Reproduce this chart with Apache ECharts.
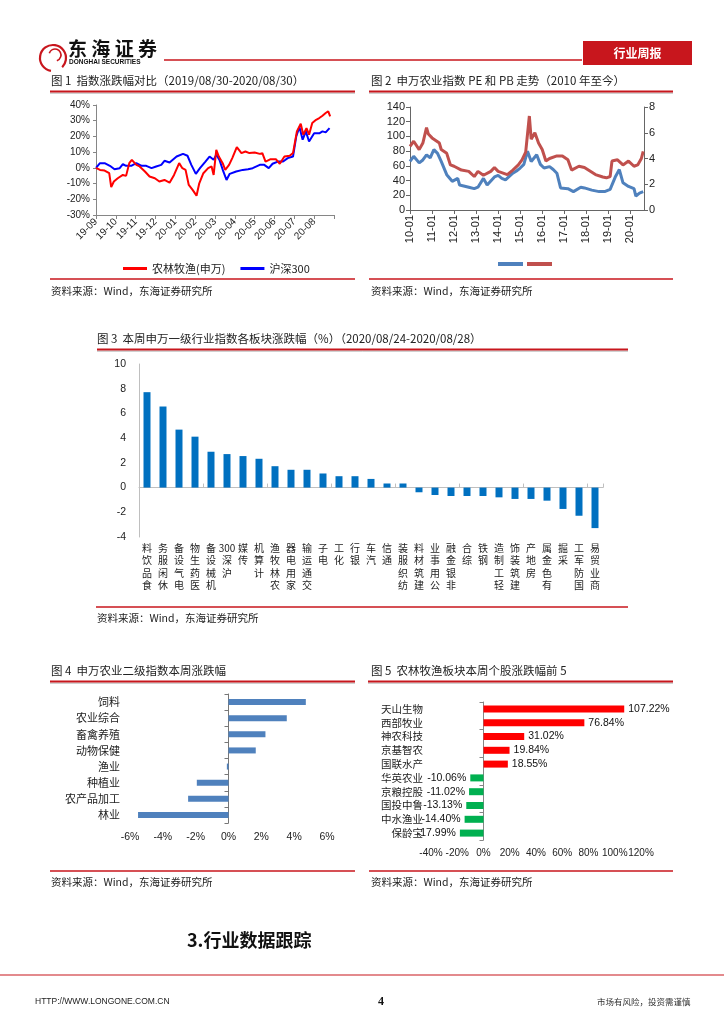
<!DOCTYPE html>
<html><head><meta charset="utf-8">
<script src="https://cdn.jsdelivr.net/npm/echarts@6/dist/echarts.min.js"></script>
<style>html,body{margin:0;padding:0;background:#fff}#c{width:724px;height:1024px}</style>
</head><body><div id="c"></div>
<script>
// ---------- Figure 1: index change comparison ----------
const agriName = '农林牧渔(申万)';
const hsName = '沪深300';
const agriDates = ['2019-09-01','2019-09-07','2019-09-14','2019-09-21','2019-09-24','2019-09-28','2019-10-04','2019-10-12','2019-10-17','2019-10-22','2019-10-26','2019-11-02','2019-11-07','2019-11-15','2019-11-22','2019-11-30','2019-12-07','2019-12-15','2019-12-23','2019-12-30','2020-01-07','2020-01-12','2020-01-17','2020-01-22','2020-01-28','2020-02-03','2020-02-07','2020-02-13','2020-02-20','2020-02-25','2020-02-28','2020-03-03','2020-03-07','2020-03-13','2020-03-17','2020-03-23','2020-03-28','2020-04-04','2020-04-11','2020-04-17','2020-04-23','2020-05-01','2020-05-09','2020-05-13','2020-05-18','2020-05-26','2020-06-03','2020-06-09','2020-06-16','2020-06-24','2020-06-29','2020-07-05','2020-07-11','2020-07-15','2020-07-20','2020-07-24','2020-07-29','2020-08-04','2020-08-09','2020-08-14','2020-08-19','2020-08-23','2020-08-26'];
const agriVals = [0,-1.3,-1.7,-3.4,-12.3,-8.7,-6.6,-4.5,-5.1,3.0,5.1,1.9,0.9,-2.3,-5.5,-6.6,-8.7,-7.7,-9.4,-4.5,3.0,-0.2,-1.3,-10.9,-14,-17.7,-9.8,-3.4,-0.2,0.9,-4.5,11.5,7.2,3.0,-1.3,1.9,6.2,13.2,9.4,10.4,9.4,9.8,8.9,9.4,4.0,5.5,5.5,2.6,7.2,7.7,9.4,23.2,28.1,21.1,25.3,21.1,28.5,30.6,31.7,33.2,34.9,36,32.8];
const hsDates = ['2019-09-01','2019-09-07','2019-09-14','2019-09-22','2019-09-29','2019-10-07','2019-10-12','2019-10-17','2019-10-25','2019-11-02','2019-11-10','2019-11-17','2019-11-25','2019-12-02','2019-12-10','2019-12-15','2019-12-23','2020-01-03','2020-01-13','2020-01-20','2020-01-26','2020-02-02','2020-02-08','2020-02-16','2020-02-22','2020-02-28','2020-03-03','2020-03-08','2020-03-14','2020-03-19','2020-03-24','2020-04-03','2020-04-13','2020-04-21','2020-04-28','2020-05-09','2020-05-16','2020-05-23','2020-05-29','2020-06-06','2020-06-14','2020-06-21','2020-06-29','2020-07-04','2020-07-09','2020-07-14','2020-07-19','2020-07-24','2020-08-01','2020-08-09','2020-08-14','2020-08-19','2020-08-25'];
const hsVals = [0,3.0,3.0,1.3,-0.9,-0.2,2.3,1.3,1.3,3.0,1.3,1.3,-0.2,0.9,1.9,4.5,3.4,7.2,8.9,7.7,1.9,-3.8,-0.2,4.0,7.2,5.1,8.3,5.1,-2.3,-7.7,-3.8,-2.3,-1.3,-0.9,-0.2,1.9,1.9,-0.2,2.6,4.0,4.0,6.2,7.2,20,26,17.9,23.2,16.8,22,22,23.2,22.6,25.3];
const fig1MonthLabels = ['19-09','19-10','19-11','19-12','20-01','20-02','20-03','20-04','20-05','20-06','20-07','20-08'];

// ---------- Figure 2: PE / PB since 2010 ----------
const peDates = ['2010-01','2010-03','2010-06','2010-08','2010-10','2010-12','2011-02','2011-04','2011-06','2011-07','2011-09','2011-12','2012-03','2012-04','2012-09','2012-12','2013-02','2013-05','2013-07','2013-11','2014-01','2014-03','2014-05','2014-09','2014-11','2015-01','2015-03','2015-05','2015-07','2015-08','2015-10','2015-12','2016-02','2016-05','2016-07','2016-09','2016-11','2017-03','2017-06','2017-10','2017-12','2018-04','2018-08','2018-11','2019-02','2019-05','2019-07','2019-09','2019-12','2020-03','2020-04','2020-06','2020-08'];
const peVals = [66,73,64,68,75,71,82,77,66,64,48,39,43,34,31,29,31,43,34,45,47,43,41,50,53,57,62,80,66,68,75,62,57,59,55,50,30,29,25,31,30,27,25,25,28,46,55,37,32,29,19,23,25];
const pbDates = ['2010-01','2010-03','2010-06','2010-08','2010-10','2010-11','2011-01','2011-03','2011-05','2011-06','2011-09','2011-11','2012-01','2012-05','2012-09','2012-12','2013-02','2013-05','2013-09','2013-11','2014-01','2014-06','2014-09','2014-12','2015-02','2015-04','2015-06','2015-07','2015-09','2015-11','2016-01','2016-03','2016-05','2016-09','2016-12','2017-03','2017-05','2017-09','2017-12','2018-06','2018-10','2018-12','2019-02','2019-03','2019-06','2019-09','2019-12','2020-03','2020-05','2020-07','2020-08'];
const pbVals = [4.95,5.34,4.69,5.2,6.4,5.9,5.6,5.4,5.2,4.7,4.4,3.5,3.4,3.1,3.0,2.6,3.0,2.7,3.0,3.3,3.0,2.75,3.1,3.5,3.9,4.5,7.3,5.5,6.0,5.2,4.7,3.8,4.0,4.2,4.2,3.9,3.1,3.4,3.3,2.75,2.56,2.5,2.6,3.8,3.9,3.5,3.8,3.4,3.5,4.0,4.56];

// ---------- Figure 3: SW level-1 industries weekly change ----------
const industries = ['食品饮料','休闲服务','电气设备','医药生物','机械设备','沪深300','传媒','计算机','农林牧渔','家用电器','交通运输','电子','化工','银行','汽车','通信','纺织服装','建筑材料','公用事业','非银金融','综合','钢铁','轻工制造','建筑装饰','房地产','有色金属','采掘','国防军工','商业贸易'];
const industryVals = [7.72,6.56,4.69,4.12,2.90,2.71,2.55,2.33,1.73,1.44,1.44,1.14,0.92,0.92,0.70,0.33,0.33,-0.38,-0.60,-0.68,-0.68,-0.68,-0.79,-0.92,-0.92,-1.06,-1.73,-2.28,-3.28];

// ---------- Figure 4: SW agriculture level-2 ----------
const subInds = ['饲料','农业综合','畜禽养殖','动物保健','渔业','种植业','农产品加工','林业'];
const subVals = [4.71,3.55,2.25,1.66,-0.10,-1.93,-2.46,-5.51];

// ---------- Figure 5: top/bottom 5 stocks ----------
const stocks = ['天山生物','西部牧业','神农科技','京基智农','国联水产','华英农业','京粮控股','国投中鲁','中水渔业','保龄宝'];
const stockVals = [107.22,76.84,31.02,19.84,18.55,-10.06,-11.02,-13.13,-14.40,-17.99];

// ---------- helpers ----------
const CJK = '"Noto Sans CJK SC"';
const LAT = '"Liberation Sans", Arial';
function monthPos(s){ const [y,m,d]=s.split('-').map(Number); const dim=new Date(y,m,0).getDate(); return (y-2019)*12+(m-9)+(d-1)/dim; }
function yearPos(s){ const [y,m]=s.split('-').map(Number); return y+(m-1)/12; }
const zip = (xs, ys, f) => xs.map((x,i)=>[f(x), ys[i]]);

function T(x,y,text,size,opt){ opt=opt||{}; return {type:'text', x:x, y:y, silent:true, style:{text:text, font:(opt.bold?'bold ':'')+size+'px '+(opt.fam||CJK), fill:opt.fill||'#222', align:opt.align||'left', verticalAlign:'middle'}}; }
function L(x1,y1,x2,y2,color,w){ return {type:'line', silent:true, shape:{x1:x1,y1:y1,x2:x2,y2:y2}, style:{stroke:color, lineWidth:w}}; }
function underline(x1,x2,y){ return [L(x1,y+1.6,x2,y+1.6,'#b0b0b0',1), L(x1,y,x2,y,'#c8161d',2)]; }

const RED='#c8161d';
const src='资料来源：Wind，东海证券研究所';
const graphics = [].concat(
  // header logo
  [{type:'arc', silent:true, shape:{cx:53,cy:58,r:13,startAngle:Math.PI*0.55,endAngle:Math.PI*2.25}, style:{stroke:'#c8161d',lineWidth:2.2,fill:null}},
   {type:'arc', silent:true, shape:{cx:55,cy:55,r:6,startAngle:Math.PI*1.1,endAngle:Math.PI*2.4}, style:{stroke:'#c8161d',lineWidth:1.6,fill:null}},
   T(68,49,'东 海 证 券',19,{bold:true,fill:'#111'}),
   T(69,62,'DONGHAI SECURITIES',6.5,{bold:true,fill:'#111',fam:LAT}),
   L(164,60,582,60,RED,1.5),
   {type:'rect', silent:true, shape:{x:583,y:41,width:109,height:24}, style:{fill:'#c8161d'}},
   T(637.5,53,'行业周报',12,{bold:true,fill:'#fff',align:'center'})],
  // fig 1 & 2 headers
  [T(51,81,'图 1  指数涨跌幅对比（2019/08/30-2020/08/30）',11.5), T(371,81,'图 2  申万农业指数 PE 和 PB 走势（2010 年至今）',11.5)],
  underline(50,355,91.5), underline(369,673,91.5),
  [L(50,279,355,279,RED,1.5), L(369,279,673,279,RED,1.5), T(51,291,src,10.5), T(371,291,src,10.5)],
  // fig 3
  [T(97,339,'图 3  本周申万一级行业指数各板块涨跌幅（%）（2020/08/24-2020/08/28）',11.5)],
  underline(97,628,349.5),
  [L(96,607,628,607,RED,1.5), T(97,618,src,10.5)],
  // fig 4 & 5
  [T(51,671,'图 4  申万农业二级指数本周涨跌幅',11.5), T(371,671,'图 5  农林牧渔板块本周个股涨跌幅前 5',11.5)],
  underline(50,355,681.5), underline(368,673,681.5),
  [L(50,871,355,871,RED,1.5), L(369,871,673,871,RED,1.5), T(51,882,src,10.5), T(371,882,src,10.5)],
  // section title & footer
  [T(187,940,'3.行业数据跟踪',18,{bold:true,fill:'#111'}),
   L(0,975,724,975,RED,1.2),
   T(35,1002,'HTTP://WWW.LONGONE.COM.CN',8.5,{fam:LAT,fill:'#222'}),
   T(378,1002,'4',12,{bold:true,fam:'"Liberation Serif", serif',fill:'#111'}),
   T(597,1002,'市场有风险，投资需谨慎',8.5,{fill:'#333'})]
);

const axGray = {lineStyle:{color:'#868686',width:1}};
const lbl = (size, extra) => Object.assign({fontSize:size, color:'#222', fontFamily:LAT}, extra||{});

const option = {
  animation:false,
  backgroundColor:'#fff',
  textStyle:{fontFamily:LAT},
  graphic: graphics,
  legend:[
    {data:[agriName,hsName], left:118, top:258, icon:'rect', itemWidth:24, itemHeight:3, itemGap:15,
     textStyle:{fontSize:11, color:'#222', fontFamily:CJK}},
    {data:['PE','PB'], left:493, top:257, icon:'rect', itemWidth:25, itemHeight:4, itemGap:4, formatter:()=>'' , textStyle:{fontSize:1}}
  ],
  grid:[
    {left:96, top:105, width:238, height:110},
    {left:410, top:107, width:234, height:103},
    {left:139, top:364, width:464, height:173},
    {left:130, top:694, width:197, height:129},
    {left:431, top:702, width:210, height:138}
  ],
  xAxis:[
    {gridIndex:0, type:'value', min:0, max:12, interval:1, splitLine:{show:false},
     axisLine:Object.assign({onZero:false}, axGray), axisTick:{length:4, lineStyle:{color:'#868686'}},
     axisLabel:lbl(10,{rotate:45, margin:5, formatter:v=>fig1MonthLabels[v]||''})},
    {gridIndex:1, type:'value', min:2010, max:2020.62, interval:1, splitLine:{show:false},
     axisLine:{onZero:false, lineStyle:{color:'#666'}}, axisTick:{length:4, lineStyle:{color:'#666'}},
     axisLabel:lbl(11,{rotate:90, margin:5, showMaxLabel:false, formatter:v=>Number.isInteger(v)?String(v).slice(2)+'-01':''})},
    {gridIndex:2, type:'category', data:industries, axisLine:{show:false, onZero:false}, axisTick:{show:false},
     axisLabel:{interval:0, fontSize:10, lineHeight:12.3, color:'#222', fontFamily:CJK, margin:5, verticalAlign:'top',
       formatter:v=>v.indexOf('300')>=0 ? '300\n深\n沪' : v.split('').reverse().join('\n')}},
    {gridIndex:2, type:'category', data:industries, axisLine:{onZero:true, lineStyle:{color:'#bfbfbf'}},
     axisTick:{show:true, length:4, lineStyle:{color:'#bfbfbf'}}, axisLabel:{show:false}},
    {gridIndex:3, type:'value', min:-6, max:6, interval:2, splitLine:{show:false},
     axisLine:{onZero:false, lineStyle:{color:'#777'}}, axisTick:{length:4, lineStyle:{color:'#777'}},
     axisLabel:lbl(10.5,{margin:9, formatter:v=>v+'%'})},
    {gridIndex:4, type:'value', min:-40, max:120, interval:20, splitLine:{show:false},
     axisLine:{onZero:false, lineStyle:{color:'#868686'}}, axisTick:{length:4, lineStyle:{color:'#868686'}},
     axisLabel:lbl(10,{margin:8, formatter:v=>v+'%'})}
  ],
  yAxis:[
    {gridIndex:0, type:'value', min:-30, max:40, interval:10, splitLine:{show:false},
     axisLine:Object.assign({show:true, onZero:false}, axGray), axisTick:{show:true, length:3, lineStyle:{color:'#868686'}},
     axisLabel:lbl(10,{margin:6, formatter:v=>v+'%'})},
    {gridIndex:1, type:'value', position:'left', min:0, max:140, interval:20, splitLine:{show:false},
     axisLine:{show:true, onZero:false, lineStyle:{color:'#666'}}, axisTick:{show:true, length:4, lineStyle:{color:'#666'}},
     axisLabel:lbl(11,{margin:5})},
    {gridIndex:1, type:'value', position:'right', min:0, max:8, interval:2, splitLine:{show:false},
     axisLine:{show:true, onZero:false, lineStyle:{color:'#666'}}, axisTick:{show:true, length:4, lineStyle:{color:'#666'}},
     axisLabel:lbl(11,{margin:5})},
    {gridIndex:2, type:'value', min:-4, max:10, interval:2, splitLine:{show:false},
     axisLine:{show:true, onZero:false, lineStyle:{color:'#bfbfbf'}}, axisTick:{show:false},
     axisLabel:lbl(10.5,{margin:13})},
    {gridIndex:3, type:'category', data:subInds, inverse:true, position:'left', axisLine:{show:false, onZero:false}, axisTick:{show:false},
     axisLabel:{fontSize:11, color:'#222', fontFamily:CJK, margin:10}},
    {gridIndex:3, type:'category', data:subInds, inverse:true, position:'left', axisLine:{show:true, onZero:true, lineStyle:{color:'#777'}},
     axisTick:{show:true, length:4, lineStyle:{color:'#777'}}, axisLabel:{show:false}},
    {gridIndex:4, type:'category', data:stocks, inverse:true, position:'left', axisLine:{show:false, onZero:false}, axisTick:{show:false},
     axisLabel:{fontSize:10.5, color:'#222', fontFamily:CJK, margin:8}},
    {gridIndex:4, type:'category', data:stocks, inverse:true, position:'left', axisLine:{show:true, onZero:true, lineStyle:{color:'#868686'}},
     axisTick:{show:true, length:4, lineStyle:{color:'#868686'}}, axisLabel:{show:false}}
  ],
  series:[
    {name:agriName, type:'line', xAxisIndex:0, yAxisIndex:0, symbol:'none', data:zip(agriDates,agriVals,monthPos),
     lineStyle:{color:'#ff0000', width:2}, itemStyle:{color:'#ff0000'}, z:3},
    {name:hsName, type:'line', xAxisIndex:0, yAxisIndex:0, symbol:'none', data:zip(hsDates,hsVals,monthPos),
     lineStyle:{color:'#0000ff', width:2}, itemStyle:{color:'#0000ff'}, z:2},
    {name:'PE', type:'line', xAxisIndex:1, yAxisIndex:1, symbol:'none', data:zip(peDates,peVals,yearPos),
     lineStyle:{color:'#4f81bd', width:3}, itemStyle:{color:'#4f81bd'}},
    {name:'PB', type:'line', xAxisIndex:1, yAxisIndex:2, symbol:'none', data:zip(pbDates,pbVals,yearPos),
     lineStyle:{color:'#c0504d', width:3}, itemStyle:{color:'#c0504d'}},
    {type:'bar', xAxisIndex:2, yAxisIndex:3, data:industryVals, barWidth:7, itemStyle:{color:'#0070c0'}},
    {type:'bar', xAxisIndex:4, yAxisIndex:4, data:subVals, barWidth:6, itemStyle:{color:'#4f81bd'}},
    {type:'bar', xAxisIndex:5, yAxisIndex:6, barWidth:7,
     data:stockVals.map(v=>({value:v, itemStyle:{color:v>=0?'#ff0000':'#00b050'}, label:{position:v>=0?'right':'left'}})),
     label:{show:true, fontSize:10.5, color:'#111', fontFamily:LAT, distance:4, formatter:p=>p.value.toFixed(2)+'%'}}
  ]
};
const chart = echarts.init(document.getElementById('c'), null, {renderer:'canvas'});
chart.setOption(option);
</script></body></html>
